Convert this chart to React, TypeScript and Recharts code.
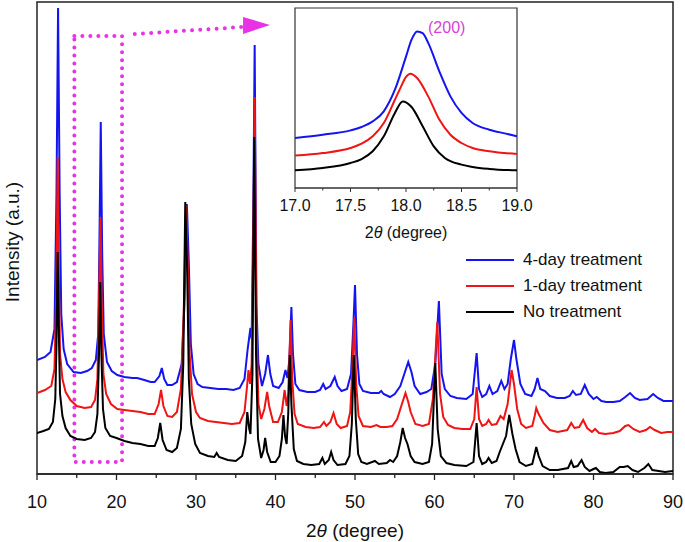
import React from 'react';
import {
  LineChart,
  Line,
  XAxis,
  YAxis,
  ReferenceArea,
  ReferenceLine,
  ReferenceDot,
} from 'recharts';

// 2θ (deg), intensity (a.u.)
const noTreatment: [number, number][] = [
  [10.0, 41], [10.8, 43], [11.5, 45], [12.0, 52], [12.3, 75], [12.45, 130], [12.6, 222], [12.75, 140],
  [12.9, 80], [13.2, 58], [13.6, 46], [14.2, 38], [15.0, 35], [16.0, 34], [16.8, 36], [17.3, 42],
  [17.6, 60], [17.8, 120], [17.95, 192], [18.1, 120], [18.3, 65], [18.6, 46], [19.2, 38], [20.0, 36],
  [21.0, 33], [22.0, 31], [23.0, 30], [24.0, 28], [24.8, 28], [25.2, 36], [25.5, 51], [25.8, 34],
  [26.3, 24], [27.0, 22], [27.6, 26], [28.1, 45], [28.4, 110], [28.65, 272], [28.9, 200], [29.1, 95],
  [29.4, 50], [29.9, 30], [30.5, 21], [31.5, 18], [32.3, 17], [32.6, 21], [32.9, 17], [34.0, 14],
  [35.0, 13], [35.8, 18], [36.2, 32], [36.45, 62], [36.7, 45], [36.85, 40], [37.1, 100], [37.33, 337],
  [37.55, 120], [37.8, 35], [38.2, 16], [38.5, 24], [38.7, 36], [38.95, 22], [39.4, 12], [40.0, 12],
  [40.5, 18], [40.8, 35], [41.0, 59], [41.2, 38], [41.4, 30], [41.6, 60], [41.8, 119], [42.0, 70],
  [42.3, 25], [42.7, 13], [43.5, 10], [44.5, 9], [45.5, 10], [45.9, 16], [46.2, 10], [46.7, 14],
  [47.0, 22], [47.3, 14], [47.8, 9], [48.8, 10], [49.3, 18], [49.6, 50], [49.85, 119], [50.1, 55],
  [50.4, 20], [50.8, 12], [51.5, 10], [52.5, 13], [53.0, 10], [54.0, 11], [54.4, 14], [54.8, 12],
  [55.3, 18], [55.7, 32], [56.0, 46], [56.3, 36], [56.6, 30], [57.0, 18], [57.5, 12], [58.5, 10],
  [59.3, 12], [59.7, 30], [60.1, 111], [60.4, 45], [60.8, 18], [61.5, 11], [62.5, 9], [64.0, 8],
  [64.9, 12], [65.3, 51], [65.6, 18], [66.0, 10], [66.5, 12], [66.8, 16], [67.2, 11], [67.8, 13],
  [68.2, 22], [68.6, 30], [69.0, 38], [69.4, 59], [69.8, 40], [70.2, 25], [70.7, 12], [71.5, 8],
  [72.3, 10], [72.6, 20], [72.8, 27], [73.1, 18], [73.6, 8], [74.5, 4], [75.5, 4], [76.8, 6],
  [77.2, 13], [77.5, 7], [78.0, 8], [78.5, 14], [78.9, 7], [79.5, 3], [80.0, 5], [80.3, 6],
  [80.8, 2], [81.5, 1], [82.5, 2], [83.3, 7], [83.8, 7], [84.3, 8], [84.9, 4], [85.6, 2],
  [86.4, 6], [86.9, 10], [87.4, 4], [88.2, 3], [89.0, 2], [90.0, 3],
];

const oneDay: [number, number][] = [
  [10.0, 81], [11.0, 84], [11.8, 88], [12.2, 105], [12.45, 190], [12.6, 317], [12.75, 200], [12.9, 120],
  [13.2, 95], [13.6, 82], [14.2, 74], [15.0, 68], [16.0, 66], [16.8, 67], [17.3, 74], [17.6, 95],
  [17.8, 170], [17.98, 257], [18.15, 170], [18.35, 100], [18.7, 80], [19.3, 70], [20.1, 65], [21.0, 64],
  [22.0, 63], [23.0, 62], [24.0, 60], [24.8, 60], [25.3, 70], [25.6, 84], [25.9, 68], [26.4, 58],
  [27.0, 57], [27.6, 62], [28.1, 85], [28.45, 160], [28.75, 269], [29.0, 200], [29.2, 120], [29.5, 80],
  [30.0, 62], [30.5, 56], [31.5, 53], [32.5, 52], [33.5, 51], [34.5, 50], [35.5, 51], [36.1, 62],
  [36.45, 90], [36.6, 104], [36.8, 90], [37.0, 110], [37.2, 230], [37.38, 377], [37.6, 150], [37.85, 70],
  [38.2, 55], [38.6, 65], [38.95, 82], [39.2, 68], [39.7, 52], [40.3, 52], [40.8, 62], [41.15, 84],
  [41.4, 68], [41.6, 80], [41.9, 154], [42.1, 95], [42.4, 60], [42.8, 50], [43.8, 47], [44.8, 46],
  [45.6, 47], [46.1, 52], [46.4, 48], [46.9, 52], [47.3, 61], [47.7, 50], [48.2, 46], [49.0, 48],
  [49.4, 62], [49.7, 110], [49.9, 156], [50.15, 90], [50.45, 58], [51.0, 48], [52.0, 47], [52.7, 49],
  [53.2, 47], [54.0, 47], [54.7, 48], [55.3, 55], [55.9, 70], [56.35, 81], [56.7, 72], [57.0, 62],
  [57.6, 50], [58.5, 48], [59.3, 50], [59.8, 75], [60.35, 152], [60.7, 80], [61.1, 57], [61.7, 49],
  [62.5, 46], [63.5, 45], [64.5, 45], [65.0, 55], [65.3, 87], [65.6, 55], [66.0, 48], [66.5, 50],
  [66.8, 54], [67.2, 49], [67.8, 50], [68.3, 58], [68.7, 55], [69.2, 70], [69.7, 104], [70.0, 90],
  [70.4, 65], [70.9, 50], [71.5, 46], [72.3, 48], [72.6, 58], [72.8, 66], [73.1, 60], [73.7, 51],
  [74.5, 44], [75.5, 42], [76.7, 44], [77.2, 51], [77.6, 46], [78.2, 47], [78.7, 54], [79.2, 46],
  [79.8, 42], [80.2, 45], [80.7, 41], [81.5, 40], [82.5, 41], [83.3, 43], [84.0, 48], [84.4, 49],
  [85.0, 45], [85.8, 42], [86.6, 44], [87.1, 47], [87.7, 44], [88.5, 41], [89.3, 42], [90.0, 42],
];

const fourDay: [number, number][] = [
  [10.0, 114], [11.0, 117], [11.7, 122], [12.2, 145], [12.45, 280], [12.65, 466], [12.85, 280], [13.05, 160],
  [13.35, 125], [13.8, 110], [14.6, 102], [15.5, 101], [16.3, 103], [16.9, 106], [17.4, 114], [17.7, 140],
  [17.85, 230], [18.02, 352], [18.2, 220], [18.4, 140], [18.8, 112], [19.4, 103], [20.1, 99], [21.0, 97],
  [22.0, 96], [22.6, 96], [23.5, 94], [24.3, 92], [24.8, 92], [25.4, 98], [25.7, 106], [26.0, 95],
  [26.4, 89], [27.0, 89], [27.6, 92], [28.2, 110], [28.55, 170], [28.85, 270], [29.1, 210], [29.35, 130],
  [29.7, 100], [30.2, 90], [30.8, 87], [31.8, 86], [32.8, 85], [33.8, 85], [34.7, 84], [35.5, 86],
  [36.1, 95], [36.5, 125], [36.85, 146], [37.0, 135], [37.2, 260], [37.38, 429], [37.6, 170], [37.85, 110],
  [38.3, 88], [38.7, 100], [39.05, 119], [39.35, 100], [39.7, 88], [40.4, 86], [40.9, 92], [41.25, 104],
  [41.5, 96], [41.75, 115], [42.0, 167], [42.2, 120], [42.5, 90], [43.0, 84], [44.0, 82], [45.0, 82],
  [45.6, 84], [46.0, 90], [46.3, 85], [46.9, 88], [47.45, 97], [47.8, 88], [48.3, 83], [49.0, 85],
  [49.5, 100], [49.8, 150], [50.0, 189], [50.25, 120], [50.55, 90], [51.0, 83], [52.0, 81], [53.0, 81],
  [53.3, 83], [53.6, 80], [54.4, 77], [55.0, 80], [55.7, 88], [56.2, 100], [56.7, 112], [57.1, 102],
  [57.5, 88], [58.2, 80], [59.0, 82], [59.6, 85], [60.1, 110], [60.55, 173], [60.9, 100], [61.3, 85],
  [62.0, 78], [62.8, 76], [64.0, 75], [64.8, 80], [65.3, 121], [65.6, 85], [66.0, 77], [66.5, 80],
  [66.9, 88], [67.3, 80], [67.9, 83], [68.4, 93], [68.8, 85], [69.2, 90], [69.6, 115], [70.0, 134],
  [70.3, 115], [70.8, 90], [71.4, 80], [72.2, 78], [72.6, 85], [72.95, 96], [73.3, 85], [73.9, 83],
  [74.5, 78], [75.4, 76], [76.4, 76], [77.0, 78], [77.4, 83], [77.8, 79], [78.4, 80], [78.9, 89],
  [79.4, 80], [80.0, 75], [80.4, 77], [81.0, 73], [81.6, 72], [82.5, 72], [83.3, 73], [84.0, 77],
  [84.6, 81], [85.2, 76], [85.8, 74], [86.8, 75], [87.5, 80], [88.1, 76], [88.8, 73], [90.0, 73],
];

// inset: (200) reflection, 17–19°
const insetNone: [number, number][] = [
  [17.0, 9.8], [17.25, 11.1], [17.5, 13.9], [17.6, 16.1], [17.7, 20.4], [17.8, 28.7], [17.9, 41.7],
  [17.97, 48.1], [18.05, 45], [18.15, 34.3], [18.25, 23.1], [18.35, 16.7], [18.5, 13], [18.6, 11.7],
  [18.75, 10.6], [19.0, 9.8],
];
const insetOneDay: [number, number][] = [
  [17.0, 18], [17.25, 19.4], [17.5, 22.2], [17.6, 24.6], [17.7, 28.7], [17.8, 36.1], [17.9, 49],
  [17.95, 55.6], [18.0, 61.7], [18.04, 63.5], [18.1, 61.1], [18.2, 50.9], [18.3, 38], [18.4, 29.6],
  [18.5, 25], [18.6, 22.2], [18.75, 20.4], [19.0, 18.9],
];
const insetFourDay: [number, number][] = [
  [17.0, 27.8], [17.25, 29.6], [17.5, 32], [17.6, 33.9], [17.7, 37], [17.8, 42.6], [17.9, 54.6],
  [18.0, 73], [18.05, 82.4], [18.1, 87], [18.15, 86], [18.2, 80.6], [18.3, 64.8], [18.4, 50.9],
  [18.5, 41.7], [18.6, 36.1], [18.75, 32.4], [18.9, 30.2], [19.0, 28.7],
];

const mainTicks = [10, 15, 20, 25, 30, 35, 40, 45, 50, 55, 60, 65, 70, 75, 80, 85, 90];
const insetTicks = [17, 17.25, 17.5, 17.75, 18, 18.25, 18.5, 18.75, 19];

const FONT = '"Liberation Sans", Arial, Helvetica, sans-serif';
const MAGENTA = '#e932e6';
const AXIS = '#222';

const series = [
  { name: '4-day treatment', color: '#1414f0', main: fourDay, inset: insetFourDay },
  { name: '1-day treatment', color: '#f01414', main: oneDay, inset: insetOneDay },
  { name: 'No treatment', color: '#000000', main: noTreatment, inset: insetNone },
];

const toPts = (arr: [number, number][]) => arr.map(([x, y]) => ({ x, y }));

const MainTick = (props: any) => {
  const { x, y, payload } = props;
  const major = payload.value % 10 === 0;
  return (
    <g>
      <line x1={x} x2={x} y1={y} y2={y + (major ? 6 : 4)} stroke={AXIS} strokeWidth={1.3} />
      {major && (
        <text x={x} y={y + 34} textAnchor="middle" fontSize={18} fontFamily={FONT} fill="#111">
          {payload.value}
        </text>
      )}
    </g>
  );
};

const InsetTick = (props: any) => {
  const { x, y, payload } = props;
  const major = Math.abs((payload.value * 2) % 1) < 1e-6;
  return (
    <g>
      <line x1={x} x2={x} y1={y} y2={y + (major ? 4 : 2.5)} stroke="#333" strokeWidth={1} />
      {major && (
        <text x={x} y={y + 23} textAnchor="middle" fontSize={16} fontFamily={FONT} fill="#111">
          {payload.value.toFixed(1)}
        </text>
      )}
    </g>
  );
};

const ArrowHead = (props: any) => {
  const { cx, cy } = props;
  return <polygon points={`${cx - 11},${cy - 9} ${cx + 16},${cy - 1} ${cx - 11},${cy + 8}`} fill={MAGENTA} />;
};

export default function App() {
  return (
    <div style={{ position: 'absolute', left: 0, top: 0, width: 685, height: 542, background: '#fff', fontFamily: FONT }}>
      <LineChart width={685} height={542} margin={{ top: 2, right: 12, left: 37, bottom: 2 }}>
        <XAxis
          dataKey="x"
          type="number"
          domain={[10, 90]}
          ticks={mainTicks}
          interval={0}
          height={66}
          tickSize={0}
          tickMargin={0}
          tickLine={false}
          tick={<MainTick />}
          axisLine={{ stroke: AXIS, strokeWidth: 1.5 }}
          allowDataOverflow
        />
        <YAxis type="number" domain={[0, 472]} width={0} tick={false} tickLine={false} axisLine={{ stroke: AXIS, strokeWidth: 1.5 }} allowDataOverflow />
        {/* plot frame */}
        <ReferenceArea x1={10} x2={90} y1={0} y2={472} fill="none" stroke={AXIS} strokeWidth={1.5} />
        {series.map((s) => (
          <Line
            key={s.name}
            data={toPts(s.main)}
            dataKey="y"
            name={s.name}
            type="linear"
            stroke={s.color}
            strokeWidth={2}
            dot={false}
            activeDot={false}
            isAnimationActive={false}
          />
        ))}
        <ReferenceArea
          x1={14.7}
          x2={20.7}
          y1={12}
          y2={438}
          fill="none"
          stroke={MAGENTA}
          strokeWidth={4}
          strokeDasharray="0 8"
          strokeLinecap="round"
        />
        <ReferenceLine
          segment={[{ x: 22.3, y: 440 }, { x: 35.8, y: 447 }]}
          stroke={MAGENTA}
          strokeWidth={4}
          strokeDasharray="0 8.2"
          strokeLinecap="round"
        />
        <ReferenceDot x={37.3} y={448} r={0} shape={<ArrowHead />} />
      </LineChart>

      {/* inset */}
      <div style={{ position: 'absolute', left: 265, top: 0 }}>
        <LineChart width={282} height={250} margin={{ top: 8, right: 30, left: 30, bottom: 2 }}>
          <XAxis
            dataKey="x"
            type="number"
            domain={[17, 19]}
            ticks={insetTicks}
            interval={0}
            height={60}
            tickSize={0}
            tickMargin={0}
            tickLine={false}
            tick={<InsetTick />}
            axisLine={{ stroke: '#333', strokeWidth: 1.2 }}
            allowDataOverflow
          />
          <YAxis type="number" domain={[0, 100]} width={0} tick={false} tickLine={false} axisLine={{ stroke: '#333', strokeWidth: 1.2 }} />
          <ReferenceArea x1={17} x2={19} y1={0} y2={100} fill="none" stroke="#333" strokeWidth={1.2} />
          {series.map((s) => (
            <Line
              key={s.name}
              data={toPts(s.inset)}
              dataKey="y"
              type="monotone"
              stroke={s.color}
              strokeWidth={2}
              dot={false}
              activeDot={false}
              isAnimationActive={false}
            />
          ))}
        </LineChart>
      </div>
      <div style={{ position: 'absolute', left: 428, top: 18, fontSize: 16, lineHeight: '20px', color: '#d93fd9' }}>(200)</div>
      <div style={{ position: 'absolute', left: 306, width: 200, top: 223, textAlign: 'center', fontSize: 16, lineHeight: '20px', color: '#111' }}>
        2<i>θ</i> (degree)
      </div>

      {/* axis titles */}
      <div style={{ position: 'absolute', left: 255, width: 200, top: 520, textAlign: 'center', fontSize: 19, lineHeight: '22px', color: '#111' }}>
        2<i>θ</i> (degree)
      </div>
      <div
        style={{
          position: 'absolute',
          left: 13,
          top: 242,
          transform: 'translate(-50%, -50%) rotate(-90deg)',
          whiteSpace: 'nowrap',
          fontSize: 19,
          lineHeight: '22px',
          color: '#111',
        }}
      >
        Intensity (a.u.)
      </div>

      {/* legend */}
      {series.map((s, i) => (
        <div key={s.name} style={{ position: 'absolute', left: 466, top: 250 + i * 26, height: 20, display: 'flex', alignItems: 'center' }}>
          <div style={{ width: 48, height: 2.5, background: s.color }} />
          <span style={{ marginLeft: 9, fontSize: 17, color: '#111' }}>{s.name}</span>
        </div>
      ))}
    </div>
  );
}
